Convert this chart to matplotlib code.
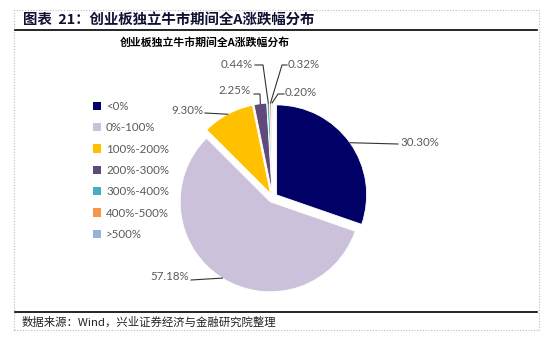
import matplotlib
matplotlib.use('Agg')
import matplotlib.pyplot as plt
from matplotlib.patches import Rectangle, Patch
import numpy as np

# 涨跌幅区间与占比(%)
categories = ['<0%', '0%-100%', '100%-200%', '200%-300%', '300%-400%', '400%-500%', '>500%']
shares = [30.30, 57.18, 9.30, 2.25, 0.44, 0.32, 0.20]
colors = ['#000066', '#CCC1DA', '#FFC000', '#604A7B', '#4BACC6', '#F79646', '#95B3D7']

W, H = 550, 341
fig = plt.figure(figsize=(5.5, 3.41), dpi=100)
ax = fig.add_axes([0, 0, 1, 1])
ax.set_xlim(0, W)
ax.set_ylim(0, H)
ax.axis('off')

cjk = ['Noto Sans CJK SC', 'DejaVu Sans']
num_font = ['Lato', 'DejaVu Sans']
gray = '#595959'

def py(y):
    # 像素坐标(自上而下) -> 数据坐标
    return H - y

# 外框、标题栏
ax.add_patch(Rectangle((14, py(330)), 525, 320, fill=False, ls=(0, (1, 1.5)),
                       lw=0.8, ec='#bbbbbb'))
ax.plot([15, 537], [py(30), py(30)], color='black', lw=1.2)
ax.plot([15, 537], [py(312), py(312)], color='black', lw=1.2)
ax.text(23, py(20), '图表  21：创业板独立牛市期间全A涨跌幅分布', family=cjk,
        fontsize=10.4, fontweight='bold', color='#111133', va='center', ha='left')
ax.text(22, py(322), '数据来源：Wind，兴业证券经济与金融研究院整理', family=cjk,
        fontsize=8.2, color='#222222', va='center', ha='left')
ax.text(205, py(42), '创业板独立牛市期间全A涨跌幅分布', family=cjk,
        fontsize=7.8, fontweight='bold', color='black', va='center', ha='center')

# 饼图 (explode 为绝对偏移量)
cx, cy, r = 272.7, py(197.7), 90
wedges, _ = ax.pie(shares, colors=colors, startangle=90, counterclock=False,
                   radius=r, center=(cx, cy), frame=True,
                   explode=[4.8] * len(shares),
                   wedgeprops=dict(edgecolor='white', linewidth=0.6))
ax.set_xlim(0, W)
ax.set_ylim(0, H)
ax.axis('off')

# 数据标签: (文字位置, 对齐, 引线起点, 拐点)
label_pos = [
    ((400, 142), 'left', (398, 144), None),
    ((189, 277), 'right', (191, 280), None),
    ((203, 110), 'right', (205, 113), None),
    ((251, 90), 'right', (254, 94), (260, 94)),
    ((253, 65), 'right', (255, 65), (263, 65)),
    ((288, 65), 'left', (287, 65), (282, 65)),
    ((285, 92), 'left', (284, 94), (278, 94)),
]
for w, val, (txy, ha, start, elbow) in zip(wedges, shares, label_pos):
    mid = np.deg2rad((w.theta1 + w.theta2) / 2)
    wx, wy = w.center
    rim = (wx + w.r * np.cos(mid), wy + w.r * np.sin(mid))
    xs = [start[0]]
    ys = [py(start[1])]
    if elbow is not None:
        xs.append(elbow[0])
        ys.append(py(elbow[1]))
    xs.append(rim[0])
    ys.append(rim[1])
    ax.plot(xs, ys, color='#333333', lw=0.8)
    ax.text(txy[0], py(txy[1]), '%.2f%%' % val, family=num_font, fontsize=8.3,
            color=gray, ha=ha, va='center')

# 图例
handles = [Patch(facecolor=c, edgecolor='none') for c in colors]
leg = ax.legend(handles, categories, loc='upper left', bbox_to_anchor=(87 / W, 1 - 95 / H),
                frameon=False, prop=dict(family=num_font, size=8.3),
                handlelength=0.75, handleheight=0.75, handletextpad=0.4,
                labelspacing=0.9, borderpad=0)
for t in leg.get_texts():
    t.set_color(gray)

fig.savefig('out.png', dpi=100)
